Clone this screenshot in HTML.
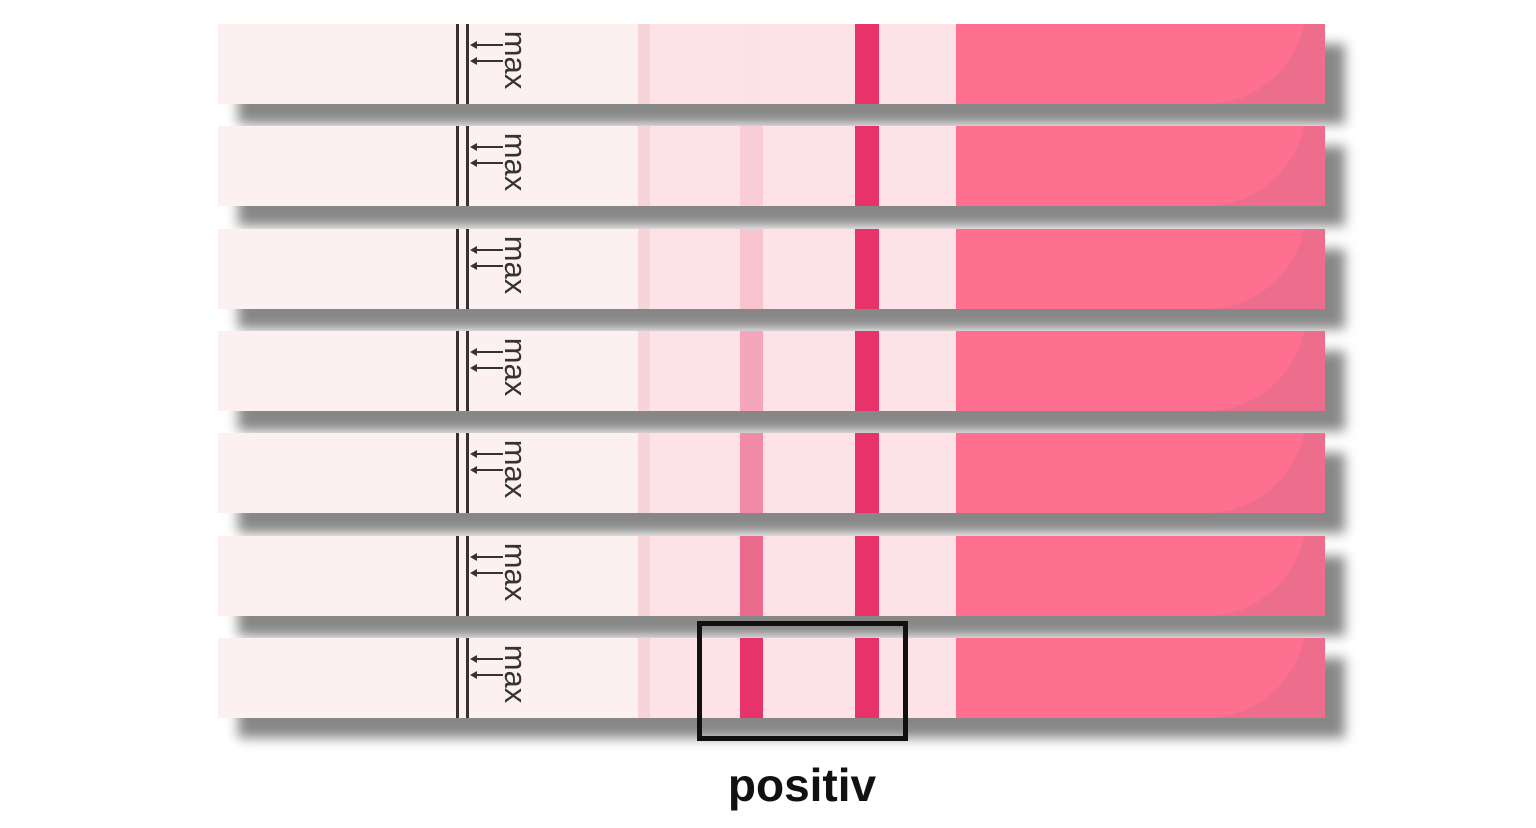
<!DOCTYPE html>
<html><head><style>
body{margin:0;width:1536px;height:828px;background:#fff;position:relative;overflow:hidden;font-family:"Liberation Sans",sans-serif}
.sh{position:absolute;left:238px;width:1107px;height:80px;background:#878787;filter:blur(6px)}
.st{position:absolute;left:218px;width:1107px;height:80px;background:#fdf0f0;overflow:hidden}
.st div{position:absolute;top:0;height:80px}
.max{position:absolute;width:62px;text-align:center;transform:rotate(90deg);transform-origin:0 0;font-size:31px;color:#333;line-height:30px}
</style></head><body>
<div id="c"></div>
<div style="position:absolute;left:697px;top:621px;width:201px;height:110px;border:5px solid #111"></div>
<div style="position:absolute;left:0;width:1604px;top:758px;text-align:center;font-weight:bold;font-size:46px;color:#111">positiv</div>
<script>
var tops=[24,126,229,331,433,536,638];
var tc=['#fce1e6','#f9cdd7','#f8c2cf','#f5a6ba','#f08aa5','#ec6a8c','#e8336a'];
var h='';
tops.forEach(function(t,i){
h+='<div class="sh" style="top:'+(t+20)+'px"></div>';
h+='<div class="st" style="top:'+t+'px">'+
'<div style="left:238px;width:3px;background:#3a3030"></div>'+
'<div style="left:248px;width:3px;background:#3a3030"></div>'+
'<div style="left:420px;width:12px;background:#f6d4da"></div>'+
'<div style="left:432px;width:306px;background:#fde3e7"></div>'+
'<div style="left:522px;width:23px;background:'+tc[i]+'"></div>'+
'<div style="left:637px;width:24px;background:#e8336a"></div>'+
'<div style="left:738px;width:369px;background:#ff7090"></div>'+
'<div style="left:960px;top:-90px;width:300px;height:170px;background:#ec6d8c"></div>'+
'<div style="left:738px;top:-200px;width:350px;height:280px;border-radius:0 0 100px 0;background:#ff7090"></div>'+
'</div>';
h+='<svg style="position:absolute;left:468px;top:'+(t+14)+'px" width="40" height="30"><g stroke="#333" stroke-width="2" fill="#333"><line x1="6" y1="7" x2="35" y2="7"/><line x1="6" y1="23" x2="35" y2="23"/></g><path d="M2 7 L9 3 L9 11Z M2 23 L9 19 L9 27Z" fill="#333"/></svg>';
h+='<div class="max" style="top:'+(t+5)+'px;left:530px">max</div>';
});
document.getElementById('c').innerHTML=h;
</script>
</body></html>
